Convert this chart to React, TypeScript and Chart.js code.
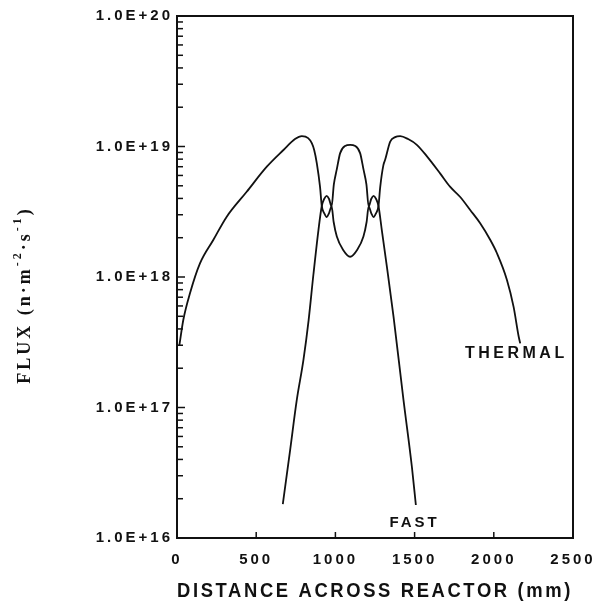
import React, { useEffect, useRef } from 'react';
import { Chart, registerables } from 'chart.js';

Chart.register(...registerables);

// Distance across reactor (mm) and flux (n·m^-2·s^-1)
const thermalX = [15, 40, 82, 145, 229, 314, 440, 567, 672, 745, 788, 828, 851, 866, 883, 903, 914, 929, 945, 960, 976, 989, 1009, 1049, 1093, 1137, 1177, 1197, 1210, 1226, 1241, 1257, 1272, 1283, 1303, 1314, 1346, 1377, 1409, 1459, 1514, 1578, 1662, 1725, 1788, 1851, 1914, 1978, 2020, 2083, 2125, 2157, 2167];
const thermalFlux = [3.0e17, 4.7e17, 7.5e17, 1.27e18, 1.92e18, 2.9e18, 4.5e18, 7.0e18, 9.4e18, 1.14e19, 1.2e19, 1.16e19, 1.06e19, 9.4e18, 7.4e18, 4.9e18, 3.5e18, 3.09e18, 2.88e18, 3.09e18, 3.47e18, 2.64e18, 2.04e18, 1.61e18, 1.43e18, 1.61e18, 2.04e18, 2.64e18, 3.47e18, 3.09e18, 2.88e18, 3.09e18, 3.5e18, 4.9e18, 7.2e18, 7.9e18, 1.09e19, 1.18e19, 1.2e19, 1.14e19, 1.03e19, 8.4e18, 6.2e18, 4.9e18, 4.1e18, 3.26e18, 2.58e18, 1.92e18, 1.52e18, 9.5e17, 5.9e17, 3.5e17, 3.1e17];

const fastX = [668, 714, 756, 798, 831, 861, 893, 914, 929, 945, 960, 976, 990, 1009, 1030, 1061, 1093, 1125, 1156, 1177, 1196, 1210, 1226, 1241, 1257, 1272, 1293, 1325, 1367, 1430, 1483, 1508];
const fastFlux = [1.82e16, 4.7e16, 1.14e17, 2.31e17, 4.68e17, 1.04e18, 2.29e18, 3.5e18, 3.96e18, 4.18e18, 3.96e18, 3.47e18, 5.1e18, 6.7e18, 8.9e18, 1.01e19, 1.03e19, 1.01e19, 8.9e18, 6.7e18, 5.1e18, 3.47e18, 3.96e18, 4.18e18, 3.96e18, 3.5e18, 2.29e18, 1.2e18, 4.97e17, 1.14e17, 3.5e16, 1.79e16];

const xTickValues = [0, 500, 1000, 1500, 2000, 2500];
const yDecades = [1e16, 1e17, 1e18, 1e19, 1e20];
const yDecadeLabels = ['1.0E+16', '1.0E+17', '1.0E+18', '1.0E+19', '1.0E+20'];
const yMinorMultipliers = [2, 3, 4, 5, 6, 7, 8, 9];

const curveNames = ['THERMAL', 'FAST'];
const curveLabelX = [1818, 1341];
const curveLabelY = [2.6e17, 1.3e16];

const xTitle = 'DISTANCE ACROSS REACTOR (mm)';
const yTitleParts = ['FLUX (n·m', '-2', '·s', '-1', ')'];

const INK = '#111';

const isDecade = (v: number) => yDecades.some((d) => Math.abs(Math.log10(v) - Math.log10(d)) < 1e-6);

const yTickValues: number[] = [];
yDecades.forEach((d, i) => {
  yTickValues.push(d);
  if (i < yDecades.length - 1) yMinorMultipliers.forEach((m) => yTickValues.push(m * d));
});

const framePlugin = {
  id: 'frame',
  beforeDraw(chart: any) {
    chart.ctx.letterSpacing = '3px';
  },
  afterDraw(chart: any) {
    const { ctx, chartArea, scales } = chart;
    const { left, right, top, bottom } = chartArea;
    const x = scales.x;
    const y = scales.y;
    ctx.save();
    ctx.letterSpacing = '0px';
    ctx.strokeStyle = INK;
    ctx.lineWidth = 2;
    ctx.strokeRect(left, top, right - left, bottom - top);
    ctx.lineWidth = 1.5;
    y.ticks.forEach((t: any) => {
      const py = y.getPixelForValue(t.value);
      const len = isDecade(t.value) ? 8 : 6;
      ctx.beginPath();
      ctx.moveTo(left, py);
      ctx.lineTo(left + len, py);
      ctx.stroke();
    });
    x.ticks.forEach((t: any) => {
      const px = x.getPixelForValue(t.value);
      ctx.beginPath();
      ctx.moveTo(px, bottom);
      ctx.lineTo(px, bottom - 6);
      ctx.stroke();
    });

    // curve labels
    ctx.fillStyle = INK;
    ctx.textBaseline = 'middle';
    ctx.textAlign = 'left';
    curveNames.forEach((name, i) => {
      ctx.font = i === 0 ? 'bold 16px "Liberation Sans", Arial, sans-serif' : 'bold 15px "Liberation Sans", Arial, sans-serif';
      ctx.letterSpacing = i === 0 ? '3.5px' : '3px';
      ctx.fillText(name, x.getPixelForValue(curveLabelX[i]), y.getPixelForValue(curveLabelY[i]));
    });

    // y title (rotated, typewriter-like serif with superscripts)
    ctx.letterSpacing = '3px';
    const normalFont = 'bold 18px "Liberation Serif", "DejaVu Serif", serif';
    const supFont = 'bold 12px "Liberation Serif", "DejaVu Serif", serif';
    const widths = yTitleParts.map((p, i) => {
      ctx.font = i % 2 === 1 ? supFont : normalFont;
      return ctx.measureText(p).width;
    });
    const total = widths.reduce((a, b) => a + b, 0);
    ctx.translate(25, 295);
    ctx.rotate(-Math.PI / 2);
    let cx = -total / 2;
    yTitleParts.forEach((p, i) => {
      const sup = i % 2 === 1;
      ctx.font = sup ? supFont : normalFont;
      ctx.fillText(p, cx, sup ? -7 : 0);
      cx += widths[i];
    });
    ctx.restore();
  },
};

export default function App() {
  const canvasRef = useRef<HTMLCanvasElement | null>(null);

  useEffect(() => {
    const canvas = canvasRef.current;
    if (!canvas) return;
    Chart.defaults.font.family = '"Liberation Sans", Arial, sans-serif';
    Chart.defaults.color = INK;

    const lineStyle = {
      borderColor: INK,
      borderWidth: 1.8,
      pointRadius: 0,
      fill: false,
      cubicInterpolationMode: 'monotone',
    };

    const chart = new Chart(canvas, {
      type: 'line',
      data: {
        datasets: [
          {
            label: 'THERMAL',
            data: thermalX.map((v, i) => ({ x: v, y: thermalFlux[i] })),
            ...lineStyle,
          },
          {
            label: 'FAST',
            data: fastX.map((v, i) => ({ x: v, y: fastFlux[i] })),
            ...lineStyle,
          },
        ],
      },
      options: {
        responsive: false,
        animation: false,
        events: [],
        layout: { padding: { top: 16, right: 25, bottom: 0, left: 0 } },
        plugins: {
          legend: { display: false },
          tooltip: { enabled: false },
        },
        scales: {
          x: {
            type: 'linear',
            min: 0,
            max: 2500,
            afterBuildTicks: (s: any) => {
              s.ticks = xTickValues.map((v) => ({ value: v }));
            },
            afterFit: (s: any) => {
              s.height = 72;
              s.paddingLeft = 0;
              s.paddingRight = 0;
            },
            grid: { display: false, drawTicks: false },
            border: { display: false },
            ticks: {
              autoSkip: false,
              maxRotation: 0,
              padding: 13,
              color: INK,
              font: { size: 15, weight: 'bold' },
              callback: (v: any) => String(v),
            },
            title: {
              display: true,
              text: xTitle,
              color: INK,
              font: { size: 21, weight: 'bold' },
              padding: { top: 0, bottom: 6 },
            },
          },
          y: {
            type: 'logarithmic',
            min: 1e16,
            max: 1e20,
            afterBuildTicks: (s: any) => {
              s.ticks = yTickValues.map((v) => ({ value: v, major: isDecade(v) }));
            },
            afterFit: (s: any) => {
              s.width = 177;
            },
            grid: { display: false, drawTicks: false },
            border: { display: false },
            ticks: {
              autoSkip: false,
              padding: 4,
              color: INK,
              font: { size: 15, weight: 'bold' },
              callback: (v: any) => {
                const idx = yDecades.findIndex((d) => Math.abs(Math.log10(Number(v)) - Math.log10(d)) < 1e-6);
                return idx >= 0 ? yDecadeLabels[idx] : '';
              },
            },
          },
        },
      },
      plugins: [framePlugin],
    } as any);

    return () => chart.destroy();
  }, []);

  return (
    <div style={{ position: 'fixed', left: 0, top: 0, width: 598, height: 610, background: '#fff' }}>
      <canvas ref={canvasRef} width={598} height={610} style={{ width: 598, height: 610, display: 'block' }} />
    </div>
  );
}
